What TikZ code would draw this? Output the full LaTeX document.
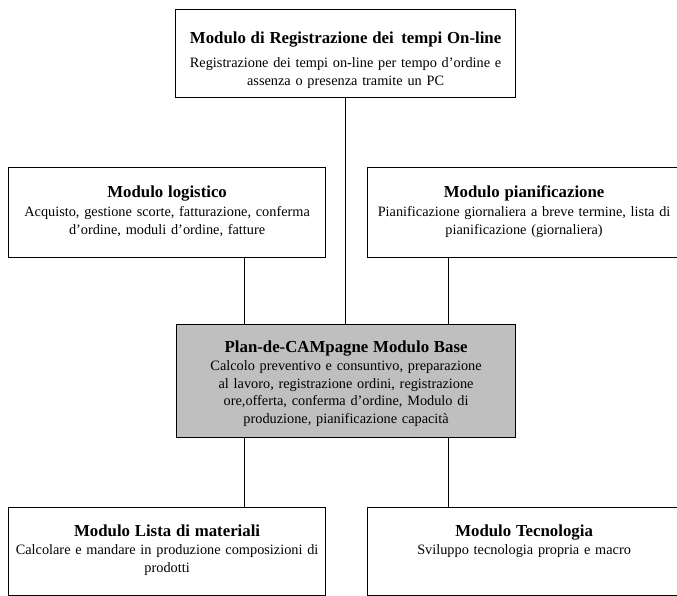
\documentclass[tikz,border=0pt]{standalone}
\usepackage{fontspec}
\setmainfont{Liberation Serif}
\usetikzlibrary{positioning}
\newcommand{\modtitle}[1]{{\fontsize{16.8}{19}\selectfont\bfseries #1}}
\def\basecolor{black!25}

\begin{document}
\begin{tikzpicture}[x = 1pt, y = -1pt,
		modbox/.style = {draw, line width = 1.2pt, anchor = north west, inner sep = 0pt, align = center, font = \fontsize{14.3}{17.5}\selectfont, text height = 29pt},
		link/.style = {line width = 1pt}]
		\useasboundingbox[fill = white] (0, 0) rectangle (677, 596);
		\node[modbox, font = \fontsize{14.3}{18.5}\selectfont, text width = 340pt, text height = 34pt, text depth = 54pt] (reg) at (175, 9) {\modtitle{Modulo di Registrazione dei\, tempi On-line}\\[5pt]Registrazione dei tempi on-line per tempo d'ordine e\\assenza o presenza tramite un PC};
		\node[modbox, text width = 317pt, text height = 30pt, text depth = 60pt] (logi) at (8, 167) {\modtitle{Modulo logistico}\\[1.5pt]Acquisto, gestione scorte, fatturazione, conferma\\d'ordine, moduli d'ordine, fatture};
		\node[modbox, text width = 313pt, text height = 30pt, text depth = 60pt] (pian) at (367, 167) {\modtitle{Modulo pianificazione}\\[1.5pt]Pianificazione giornaliera a breve termine, lista di\\pianificazione (giornaliera)};
		\node[modbox, fill = \basecolor, text width = 339pt, text height = 28pt, text depth = 85pt] (base) at (176, 324) {\modtitle{Plan-de-CAMpagne Modulo Base}\\[0.5pt]Calcolo preventivo e consuntivo, preparazione\\al lavoro, registrazione ordini, registrazione\\ore,offerta, conferma d'ordine, Modulo di\\produzione, pianificazione capacità};
		\node[modbox, text width = 317pt, text depth = 59pt] (mat) at (8, 507) {\modtitle{Modulo Lista di materiali}\\[0.5pt]Calcolare e mandare in produzione composizioni di\\prodotti};
		\node[modbox, text width = 313pt, text depth = 59pt] (tec) at (367, 507) {\modtitle{Modulo Tecnologia}\\[0.5pt]Sviluppo tecnologia propria e macro};
		\coordinate (lx) at ([xshift = 68pt]base.north west);
		\coordinate (rx) at ([xshift = -68pt]base.north east);
		% links to the base module
		\draw[link] (reg.south) -- (reg.south |- base.north);
		\draw[link] (lx) -- (lx |- logi.south);
		\draw[link] (rx) -- (rx |- pian.south);
		\draw[link] (lx |- base.south) -- (lx |- mat.north);
		\draw[link] (rx |- base.south) -- (rx |- tec.north);
	\end{tikzpicture}
\end{document}
